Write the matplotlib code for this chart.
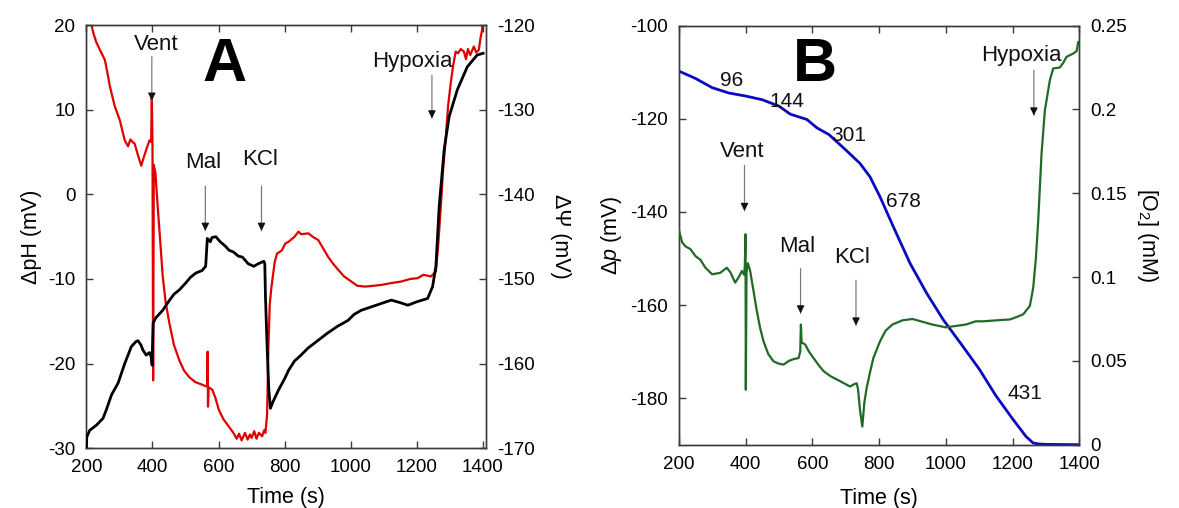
import matplotlib
matplotlib.use("Agg")
import matplotlib.pyplot as plt

plt.rcParams['font.family'] = ['Liberation Sans', 'DejaVu Sans']
plt.rcParams['axes.unicode_minus'] = False
plt.rcParams['mathtext.fontset'] = 'custom'
plt.rcParams['mathtext.rm'] = 'Liberation Sans'
plt.rcParams['mathtext.it'] = 'Liberation Sans:italic'

# ---- Panel A: delta pH (black, left axis) and membrane potential (red, right axis)
ph_time = [200, 201, 210, 230, 250, 260, 276, 296, 316, 336, 350, 356, 365, 371, 381, 391,
           396, 399, 400, 402, 410, 431, 450, 465, 481, 500, 515, 531, 550, 561, 563, 566,
           575, 580, 592, 605, 620, 632, 645, 660, 672, 690, 707, 720, 737, 740, 742, 747,
           752, 757, 765, 782, 800, 812, 830, 850, 870, 900, 930, 960, 992, 1010, 1032,
           1070, 1100, 1123, 1150, 1173, 1200, 1233, 1248, 1258, 1268, 1283, 1298, 1323,
           1353, 1383, 1401]
ph_vals = [-30.0, -28.7, -27.9, -27.3, -26.5, -25.5, -23.7, -22.3, -20.0, -18.0, -17.4,
           -17.3, -17.8, -18.4, -19.0, -18.7, -19.2, -20.2, -18.0, -15.2, -14.6, -13.7,
           -12.6, -11.8, -11.3, -10.5, -9.8, -9.3, -9.0, -8.5, -7.2, -5.2, -5.6, -5.1,
           -5.0, -5.6, -6.1, -6.6, -6.8, -7.3, -7.4, -8.2, -8.5, -8.2, -7.9, -8.2, -12.0,
           -18.0, -23.0, -25.3, -24.5, -23.1, -21.8, -20.8, -19.7, -19.0, -18.2, -17.3,
           -16.4, -15.6, -14.9, -14.2, -13.7, -13.2, -12.8, -12.5, -12.8, -13.1, -12.7,
           -12.3, -10.9, -8.5, -1.4, 5.3, 9.2, 12.4, 15.1, 16.5, 16.7]

psi_time = [200, 205, 216, 221, 230, 241, 256, 263, 271, 286, 301, 316, 326, 333, 340, 346,
            355, 366, 372, 381, 391, 396, 398, 400, 402, 404, 409, 415, 421, 431, 440, 451,
            465, 481, 495, 511, 530, 550, 562, 566, 567, 568, 570, 581, 590, 601, 615, 632,
            645, 655, 662, 670, 680, 688, 695, 700, 708, 715, 722, 732, 738, 742, 747, 749,
            751, 755, 760, 770, 777, 792, 802, 812, 830, 842, 850, 872, 885, 902, 917, 932,
            947, 962, 980, 1002, 1020, 1043, 1070, 1093, 1120, 1153, 1180, 1203, 1220, 1243,
            1258, 1265, 1273, 1280, 1288, 1295, 1303, 1310, 1318, 1325, 1333, 1343, 1349,
            1355, 1362, 1373, 1380, 1388, 1393, 1398, 1401]
psi_vals = [-118.0, -119.5, -120.1, -120.9, -122.0, -122.9, -124.1, -125.5, -127.2, -129.6,
            -131.2, -133.6, -134.3, -133.5, -133.8, -134.0, -135.2, -136.6, -135.8, -134.7,
            -133.6, -133.8, -128.4, -134.0, -162.0, -136.5, -137.5, -141.0, -144.2, -149.7,
            -152.8, -155.2, -157.8, -159.6, -160.8, -161.6, -162.2, -162.5, -162.7, -162.5,
            -158.6, -165.1, -162.8, -163.1, -164.0, -165.5, -166.6, -167.5, -168.2, -168.9,
            -168.3, -169.1, -168.2, -169.0, -168.4, -168.8, -168.0, -168.9, -168.2, -168.6,
            -167.9, -168.2, -166.0, -162.0, -158.0, -153.0, -151.0, -148.0, -147.0, -146.6,
            -145.8, -145.6, -145.0, -144.4, -144.7, -144.6, -145.0, -145.4, -146.4, -147.4,
            -148.2, -148.9, -149.7, -150.3, -150.8, -150.9, -150.8, -150.7, -150.5, -150.3,
            -150.0, -149.9, -149.5, -149.7, -149.1, -146.0, -141.4, -137.0, -133.2, -129.5,
            -126.8, -124.8, -123.1, -123.3, -122.8, -123.1, -124.0, -122.8, -123.5, -122.5,
            -123.2, -122.9, -121.5, -120.5, -118.5]

# ---- Panel B: proton motive force (green, left axis) and oxygen (blue, right axis)
dp_time = [200, 210, 220, 235, 250, 265, 280, 300, 324, 344, 355, 369, 380, 389, 396, 398,
           400, 401, 403, 407, 414, 424, 434, 444, 454, 468, 484, 500, 514, 530, 545, 559,
           564, 566, 568, 579, 590, 604, 620, 634, 655, 674, 695, 713, 726, 733, 737, 743,
           750, 756, 763, 773, 783, 803, 820, 840, 870, 900, 930, 960, 1000, 1030, 1060,
           1090, 1113, 1150, 1193, 1215, 1232, 1252, 1262, 1270, 1277, 1287, 1297, 1312,
           1322, 1342, 1352, 1362, 1382, 1392, 1397, 1400]
dp_vals = [-143.8, -146.5, -147.4, -148.0, -149.5, -150.3, -152.0, -153.4, -153.1, -152.0,
           -153.0, -155.2, -154.0, -152.7, -153.5, -151.5, -144.8, -178.2, -153.0, -151.0,
           -152.7, -157.0, -161.3, -165.0, -167.8, -170.5, -172.1, -172.6, -172.8, -172.0,
           -171.6, -171.4, -170.0, -164.2, -168.0, -168.5, -170.0, -171.4, -173.0, -174.2,
           -175.3, -176.0, -176.8, -177.5, -177.0, -176.8, -178.0, -182.5, -186.1, -181.0,
           -177.8, -174.5, -171.4, -167.8, -165.5, -164.2, -163.3, -163.0, -163.6, -164.2,
           -164.8, -164.5, -164.2, -163.5, -163.5, -163.3, -163.1, -162.5, -162.0, -160.2,
           -156.3, -150.0, -141.9, -127.5, -118.2, -111.7, -109.2, -109.0, -108.0, -106.7,
           -106.0, -105.5, -103.5, -103.8]

o2_time = [200, 250, 300, 350, 400, 450, 500, 534, 584, 614, 650, 700, 743, 773, 803, 843,
           893, 943, 993, 1050, 1100, 1150, 1200, 1240, 1262, 1280, 1300, 1400]
o2_vals = [0.2229, 0.2185, 0.2130, 0.2098, 0.2080, 0.2058, 0.2020, 0.1972, 0.1940, 0.1890,
           0.1850, 0.1759, 0.1678, 0.1598, 0.1479, 0.1300, 0.1082, 0.0903, 0.0744, 0.0590,
           0.0452, 0.0293, 0.0155, 0.0050, 0.0010, 0.0004, 0.0002, 0.0000]

# respiration rates printed along the oxygen trace
rate_labels = ['96', '144', '301', '678', '431']

time_ticks = [200, 400, 600, 800, 1000, 1200, 1400]
ph_ticks = [-30, -20, -10, 0, 10, 20]
psi_ticks = [-170, -160, -150, -140, -130, -120]
dp_ticks = [-180, -160, -140, -120, -100]
o2_ticks = [0, 0.05, 0.1, 0.15, 0.2, 0.25]

TICK_FS = 13.5
LABEL_FS = 15.5
NOTE_FS = 16
SPINE = '#3a3a3a'

fig = plt.figure(figsize=(11.79, 5.08), dpi=100)


def style_axes(ax, right=False):
    for s in ax.spines.values():
        s.set_color(SPINE)
        s.set_linewidth(1.0)
    ax.tick_params(direction='in', length=5, width=1.0, color=SPINE,
                   labelsize=TICK_FS, pad=8)
    if not right:
        ax.tick_params(axis='x', top=True, bottom=True)


def note(ax, text, tx, ty, ax_x, y0, y1):
    ax.text(tx, ty, text, ha='center', va='center', fontsize=NOTE_FS, color='#111111')
    ax.annotate('', xy=(ax_x, y1), xytext=(ax_x, y0),
                arrowprops=dict(arrowstyle='-', color='#7a7a7a', lw=0.9,
                                shrinkA=0, shrinkB=0))
    span = y0 - y1
    ax.annotate('', xy=(ax_x, y1), xytext=(ax_x, y1 + span * 0.12),
                arrowprops=dict(arrowstyle='-|>', color='#111111', lw=0.9,
                                mutation_scale=11, shrinkA=0, shrinkB=0))


# ================= Panel A =================
axA = fig.add_axes([0.0733, 0.118, 0.339, 0.832])
axA2 = axA.twinx()
axA.plot(ph_time, ph_vals, color='black', lw=2.0, zorder=3)
axA2.plot(psi_time, psi_vals, color='#e00000', lw=1.6, zorder=2)
axA.set_zorder(axA2.get_zorder() + 1)
axA.patch.set_visible(False)

axA.set_xlim(200, 1410)
axA.set_ylim(-30, 20)
axA2.set_ylim(-170, -120)
axA.set_xticks(time_ticks)
axA.set_xticklabels([str(t) for t in time_ticks])
axA.set_yticks(ph_ticks)
axA.set_yticklabels([str(t) for t in ph_ticks])
axA2.set_yticks(psi_ticks)
axA2.set_yticklabels([str(t) for t in psi_ticks])
style_axes(axA)
style_axes(axA2, right=True)
axA.set_xlabel('Time (s)', fontsize=LABEL_FS, labelpad=8)
axA.set_ylabel('ΔpH (mV)', fontsize=LABEL_FS, labelpad=4)
axA2.set_ylabel('ΔΨ (mV)', fontsize=LABEL_FS, rotation=270, labelpad=26)

axA.text(617, 15.3, 'A', ha='center', va='center', fontsize=44, fontweight='bold')
note(axA, 'Vent', 410, 17.7, 398, 16.3, 11.1)
note(axA, 'Mal', 552, 3.8, 560, 1.0, -4.3)
note(axA, 'KCl', 727, 4.1, 730, 1.0, -4.3)
note(axA, 'Hypoxia', 1188, 15.7, 1246, 14.1, 9.0)

# ================= Panel B =================
axB = fig.add_axes([0.5757, 0.1246, 0.3397, 0.825])
axB2 = axB.twinx()
axB.plot(dp_time, dp_vals, color='#1f6b25', lw=1.6, zorder=3)
axB2.plot(o2_time, o2_vals, color='#0a0ac0', lw=2.0, zorder=2)
axB.set_zorder(axB2.get_zorder() + 1)
axB.patch.set_visible(False)

axB.set_xlim(200, 1400)
axB.set_ylim(-190, -100)
axB2.set_ylim(0, 0.25)
axB.set_xticks(time_ticks)
axB.set_xticklabels([str(t) for t in time_ticks])
axB.set_yticks(dp_ticks)
axB.set_yticklabels([str(t) for t in dp_ticks])
axB2.set_yticks(o2_ticks)
axB2.set_yticklabels([f'{t:g}' for t in o2_ticks])
style_axes(axB)
style_axes(axB2, right=True)
axB.set_xlabel('Time (s)', fontsize=LABEL_FS, labelpad=11)
axB.set_ylabel(r'Δ$\mathit{p}$ (mV)', fontsize=LABEL_FS, labelpad=4)
axB2.set_ylabel(r'[O$_2$] (mM)', fontsize=LABEL_FS, rotation=270, labelpad=24)

axB.text(609, -108.5, 'B', ha='center', va='center', fontsize=44, fontweight='bold')
rate_pos = [(359, 0.2170), (524, 0.2046), (710, 0.1844), (874, 0.1452), (1238, 0.0303)]
for lab, (rx, ry) in zip(rate_labels, rate_pos):
    axB2.text(rx, ry, lab, ha='center', va='center', fontsize=15, color='#111111')
note(axB, 'Vent', 389, -127.0, 397, -130.0, -139.8)
note(axB, 'Mal', 556, -147.4, 565, -152.2, -161.8)
note(axB, 'KCl', 719, -149.9, 731, -154.7, -164.4)
note(axB, 'Hypoxia', 1227, -106.4, 1264, -109.6, -119.3)

fig.savefig('out.png', dpi=100)
